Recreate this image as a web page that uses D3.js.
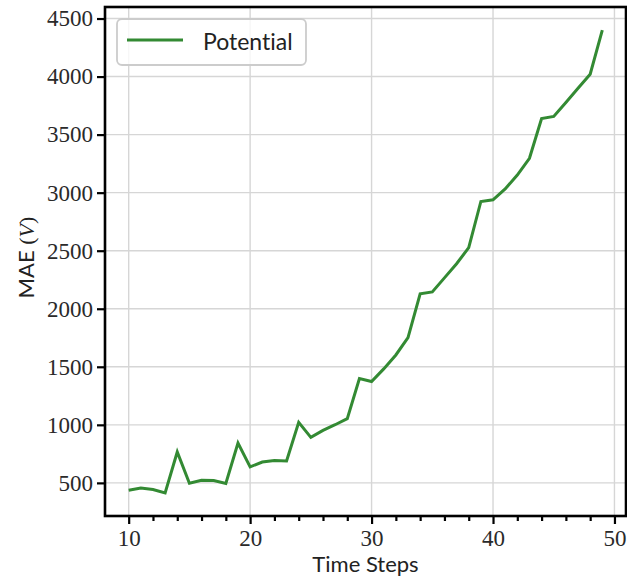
<!DOCTYPE html>
<html>
<head>
<meta charset="utf-8">
<script src="https://cdn.jsdelivr.net/npm/d3@7"></script>
<style>
  html, body { margin: 0; padding: 0; background: #fff; }
  svg { display: block; }
  text { font-variant-ligatures: none; font-feature-settings: "liga" 0, "clig" 0; }
</style>
</head>
<body>
<svg id="chart" width="627" height="581"></svg>
<script>
// MAE of the potential prediction for each time step
const timeSteps = [10, 11, 12, 13, 14, 15, 16, 17, 18, 19,
                   20, 21, 22, 23, 24, 25, 26, 27, 28, 29,
                   30, 31, 32, 33, 34, 35, 36, 37, 38, 39,
                   40, 41, 42, 43, 44, 45, 46, 47, 48, 49];
const potentialMAE = [437, 455, 443, 414, 766, 497, 523, 520, 495, 843,
                      638, 680, 692, 689, 1021, 892, 952, 1001, 1053, 1399,
                      1373, 1482, 1602, 1751, 2128, 2145, 2266, 2388, 2526, 2924,
                      2938, 3032, 3152, 3296, 3639, 3657, 3777, 3900, 4020, 4400];
const xTicks = [10, 20, 30, 40, 50];
const xMinorTicks = [12, 14, 16, 18, 22, 24, 26, 28, 32, 34, 36, 38, 42, 44, 46, 48];
const yTicks = [500, 1000, 1500, 2000, 2500, 3000, 3500, 4000, 4500];
const seriesName = "Potential";

const lineColor = "#338a33";
const serif = "'Liberation Serif', 'Times New Roman', serif";
const sans = "Lato, 'Open Sans', sans-serif";

const svg = d3.select("#chart");
const plot = { left: 105, right: 626, top: 7, bottom: 516 };

// 5% padding around the data on both axes
function padded(ext) {
  const d = ext[1] - ext[0];
  return [ext[0] - 0.05 * d, ext[1] + 0.05 * d];
}
const x = d3.scaleLinear().domain(padded(d3.extent(timeSteps))).range([plot.left, plot.right]);
const y = d3.scaleLinear().domain(padded(d3.extent(potentialMAE))).range([plot.bottom, plot.top]);

// grid
const grid = svg.append("g").attr("stroke", "#d6d6d6").attr("stroke-width", 1.4);
grid.selectAll(".gx").data(xTicks).join("line")
  .attr("x1", d => x(d)).attr("x2", d => x(d))
  .attr("y1", plot.top).attr("y2", plot.bottom);
grid.selectAll(".gy").data(yTicks).join("line")
  .attr("x1", plot.left).attr("x2", plot.right)
  .attr("y1", d => y(d)).attr("y2", d => y(d));

// data line
const line = d3.line().x((d, i) => x(timeSteps[i])).y(d => y(d));
svg.append("path")
  .datum(potentialMAE)
  .attr("fill", "none")
  .attr("stroke", lineColor)
  .attr("stroke-width", 3)
  .attr("stroke-linejoin", "miter")
  .attr("d", line);

// axes
const xAxis = d3.axisBottom(x).tickValues(xTicks).tickSize(8).tickPadding(6).tickFormat(d3.format("d"));
const xMinor = d3.axisBottom(x).tickValues(xMinorTicks).tickSize(5).tickFormat("");
const yAxis = d3.axisLeft(y).tickValues(yTicks).tickSize(8).tickPadding(4).tickFormat(d3.format("d"));

function styleAxis(g) {
  g.select(".domain").remove();
  g.selectAll(".tick line").attr("stroke", "#000").attr("stroke-width", 2.2);
  g.selectAll(".tick text")
    .attr("fill", "#2a2a2a")
    .style("font-family", serif)
    .style("font-size", "23px");
}
svg.append("g").attr("transform", `translate(0,${plot.bottom})`).call(xAxis).call(styleAxis);
svg.append("g").attr("transform", `translate(0,${plot.bottom})`).call(xMinor).call(styleAxis);
svg.append("g").attr("transform", `translate(${plot.left},0)`).call(yAxis).call(styleAxis);

// frame
svg.append("rect")
  .attr("x", plot.left).attr("y", plot.top)
  .attr("width", plot.right - plot.left).attr("height", plot.bottom - plot.top)
  .attr("fill", "none").attr("stroke", "#000").attr("stroke-width", 2.6);

// axis labels
svg.append("text")
  .attr("x", (plot.left + plot.right) / 2).attr("y", 572)
  .attr("text-anchor", "middle")
  .attr("fill", "#222")
  .style("font-family", sans).style("font-size", "22px")
  .text("Time Steps");

const yl = svg.append("text")
  .attr("transform", `translate(34,${(plot.top + plot.bottom) / 2 - 4}) rotate(-90)`)
  .attr("text-anchor", "middle")
  .attr("fill", "#222")
  .style("font-size", "22px");
yl.append("tspan").style("font-family", sans).text("MAE ");
yl.append("tspan").style("font-family", serif).text("(");
yl.append("tspan").style("font-family", serif).style("font-style", "italic").text("V");
yl.append("tspan").style("font-family", serif).text(")");

// legend
const lg = svg.append("g");
lg.append("rect")
  .attr("x", 117).attr("y", 19).attr("width", 189).attr("height", 46).attr("rx", 5)
  .attr("fill", "#fff").attr("fill-opacity", 0.8)
  .attr("stroke", "#cccccc").attr("stroke-width", 1.8);
lg.append("line")
  .attr("x1", 127).attr("x2", 183).attr("y1", 40).attr("y2", 40)
  .attr("stroke", lineColor).attr("stroke-width", 3);
lg.append("text")
  .attr("x", 203).attr("y", 50)
  .attr("fill", "#222")
  .style("font-family", sans).style("font-size", "23px")
  .text(seriesName);
</script>
</body>
</html>
